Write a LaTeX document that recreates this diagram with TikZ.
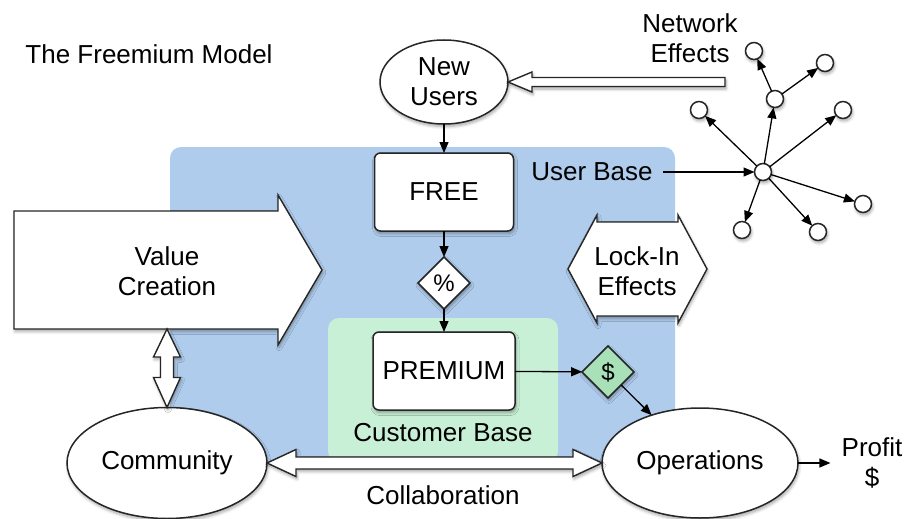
\documentclass[tikz,border=0pt]{standalone}
\usepackage{fontspec}
\setmainfont{Liberation Sans}
\usetikzlibrary{arrows.meta,shapes.geometric,calc,shadows.blur}
\definecolor{ubblue}{HTML}{AFCCEC}
\definecolor{cbgreen}{HTML}{C8F0D6}
\definecolor{dolgreen}{HTML}{A8E0B8}
\definecolor{lineC}{HTML}{262626}
\begin{document}
\begin{tikzpicture}[x=1pt,y=-1pt,
  txt/.style={font=\fontsize{26}{30}\selectfont, align=center, inner sep=0pt, text=black},
  shad/.style={blur shadow={shadow blur steps=6, shadow xshift=1pt, shadow yshift=-2.5pt, shadow opacity=35, shadow blur radius=3pt}},
  ell/.style={ellipse, draw=lineC, fill=white, line width=1.5pt, outer sep=0pt, inner sep=0pt, shad, txt},
  boxn/.style={rectangle, rounded corners=6pt, draw=lineC, fill=white, line width=1.5pt, outer sep=0pt, inner sep=0pt, shad, txt},
  dia/.style={diamond, draw=lineC, line width=1.5pt, outer sep=0pt, inner sep=0pt, minimum width=52pt, minimum height=52pt, shad, font=\fontsize{24}{26}\selectfont},
  netn/.style={circle, draw=lineC, fill=white, line width=1.5pt, minimum size=17pt, inner sep=0pt, outer sep=0pt, shad},
  conn/.style={-{Triangle[length=11pt,width=9pt]}, line width=1.3pt, draw=black},
  hollow/.style={draw=lineC, fill=white, line width=1.4pt, line join=miter, shad}
]
\useasboundingbox (0,0) rectangle (905,519);

% regions
\fill[ubblue, rounded corners=11pt] (170,147) rectangle (675,462);
\fill[cbgreen, rounded corners=11pt] (328,318) rectangle (558,462);

% title
\node[txt] (title) at (149,54) {The Freemium Model};

% value creation arrow
\node[minimum width=308pt, minimum height=118pt, inner sep=0pt, outer sep=0pt] (vc) at (168,270) {};
\draw[hollow] (vc.north west) -- ($(vc.north east)+(-44,0)$) -- ++(0,-16) -- (vc.east)
  -- ($(vc.south east)+(-44,16)$) -- ++(0,-16) -- (vc.south west) -- cycle;
\node[txt] (vclabel) at (167,271) {Value\\Creation};

% lock-in double arrow
\node[minimum width=139pt, minimum height=108pt, inner sep=0pt, outer sep=0pt] (lock) at (637.5,269) {};
\draw[hollow] (lock.west) -- ($(lock.north west)+(29,0)$) -- ++(0,7) -- ($(lock.north east)+(-29,7)$)
  -- ++(0,-7) -- (lock.east) -- ($(lock.south east)+(-29,0)$) -- ++(0,-7)
  -- ($(lock.south west)+(29,-7)$) -- ++(0,7) -- cycle;
\node[txt] (locklabel) at (637,271) {Lock-In\\Effects};

% main nodes
\node[ell, minimum width=128pt, minimum height=84pt] (new) at (444,82) {New\\Users};
\node[boxn, minimum width=139pt, minimum height=78pt] (free) at (444,192) {FREE};
\node[dia, fill=white] (pct) at (444,283) {\%};
\node[boxn, minimum width=142pt, minimum height=78pt] (prem) at (444,371) {PREMIUM};
\node[txt] (cb) at (443,433) {Customer Base};
\node[dia, fill=dolgreen] (dol) at (608,372) {\$};
\node[txt] (ub) at (592,172) {User Base};

\node[ell, minimum width=200pt, minimum height=111pt] (comm) at (167,463) {Community};
\node[ell, minimum width=196pt, minimum height=110pt] (ops) at (700,463) {Operations};
\node[txt] (collab) at (443,495) {Collaboration};
\node[txt] (profit) at (872,463) {Profit\\\$};
\node[txt] (neteff) at (690,38) {Network\\Effects};

% network
\node[netn] (hub) at (763,172) {};
\node[netn] (n1) at (754,51) {};
\node[netn] (n2) at (775,99) {};
\node[netn] (n3) at (825,63) {};
\node[netn] (n4) at (699,110) {};
\node[netn] (n5) at (843,110) {};
\node[netn] (n6) at (863,204) {};
\node[netn] (n7) at (818,232) {};
\node[netn] (n8) at (742,230) {};
\foreach \t in {n2,n4,n5,n6,n7,n8} \draw[conn] (hub) -- (\t);
\draw[conn] (n2) -- (n1);
\draw[conn] (n2) -- (n3);

% connectors
\draw[conn] (new) -- (free);
\draw[conn] (free) -- (pct);
\draw[conn] (pct) -- (prem);
\draw[conn] (prem) -- (dol);
\draw[conn] (dol) -- (ops);
\draw[conn] ($(ub.east)+(10,0)$) -- (hub);
\draw[conn] (ops) -- ($(profit.west)+(-11,0)$);

% hollow connectors
\draw[hollow] (new.east) -- ++(24,-10) -- ++(0,5.5) -- ++(193,0) -- ++(0,9) -- ++(-193,0) -- ++(0,5.5) -- cycle;
\draw[hollow] (comm.east) -- ++(29,-13.5) -- ++(0,7.5) -- ($(ops.west)+(-29,-6)$) -- ++(0,-7.5)
  -- (ops.west) -- ++(-29,13.5) -- ++(0,-7.5) -- ($(comm.east)+(29,6)$) -- ++(0,7.5) -- cycle;
\draw[hollow] (comm.north |- vc.south) -- ++(13.5,28) -- ++(-7,0) -- ($(comm.north)+(6.5,-30)$) -- ++(7,0)
  -- (comm.north) -- ++(-13.5,-30) -- ++(7,0) -- ($(comm.north |- vc.south)+(-6.5,28)$) -- ++(-7,0) -- cycle;
\end{tikzpicture}
\end{document}
